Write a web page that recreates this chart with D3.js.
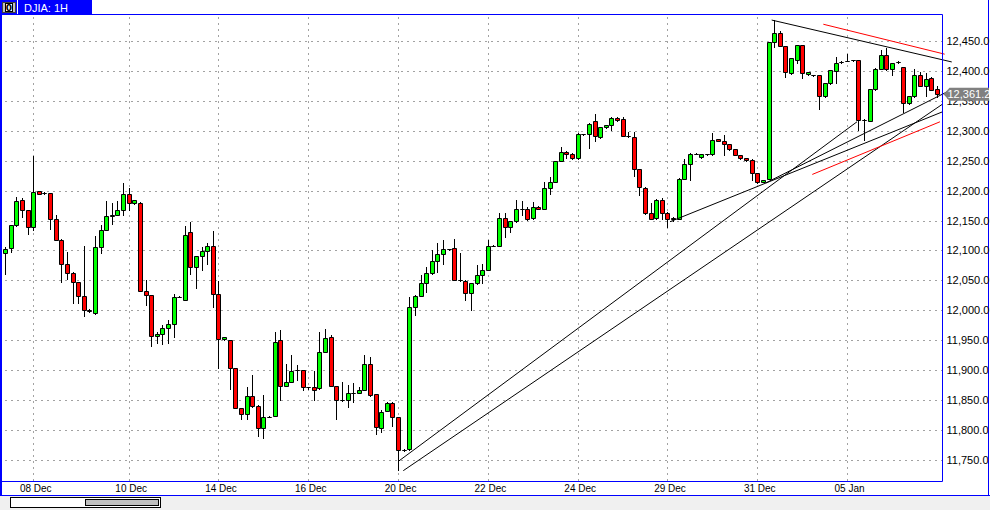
<!DOCTYPE html>
<html><head><meta charset="utf-8">
<script src="https://cdn.jsdelivr.net/npm/d3@7/dist/d3.min.js"></script>
<style>html,body{margin:0;padding:0;background:#fff;overflow:hidden}svg{display:block}</style>
</head><body>
<svg id="chart" width="990" height="510"></svg>
<script>
// ---- data (DJIA hourly bars) ----
const openP = [12095,12104,12142,12184,12167,12139,12199,12196,12196,12152,12118,12078,12063,12047,12024,12001,11995,12106,12135,12157,12160,12167,12194,12179,12180,12033,12025,11957,11960,11970,11977,12023,12018,12130,12072,12090,12099,12107,12028,11952,11950,11904,11836,11826,11856,11840,11803,11822,11824,11950,11874,11881,11900,11900,11871,11871,11870,11931,11955,11874,11850,11850,11861,11862,11867,11911,11860,11803,11832,11845,11822,11767,11769,12005,12024,12045,12062,12082,12094,12102,12104,12051,12049,12029,12045,12059,12068,12108,12107,12154,12139,12149,12170,12170,12154,12173,12170,12204,12215,12249,12265,12262,12254,12294,12294,12317,12289,12306,12310,12321,12319,12292,12289,12236,12205,12162,12154,12185,12163,12155,12152,12220,12244,12262,12256,12261,12261,12286,12283,12278,12269,12260,12254,12251,12229,12215,12220,12449,12464,12442,12396,12419,12443,12395,12393,12393,12358,12379,12400,12415,12417,12418,12418,12318,12317,12369,12404,12426,12403,12415,12407,12347,12358,12393,12375,12388,12369];
const highP = [12106,12143,12190,12187,12168,12258,12200,12197,12196,12159,12119,12098,12064,12048,12107,12002,12124,12142,12182,12180,12182,12212,12205,12185,12181,12051,12026,11963,11975,11984,12028,12024,12141,12147,12090,12106,12112,12132,12049,11956,11951,11904,11837,11871,11892,11841,11858,11823,11964,11967,11910,11925,11909,11900,11872,11899,11963,11969,11959,11874,11881,11875,11878,11872,11925,11922,11860,11833,11846,11847,11822,11768,12022,12026,12059,12073,12101,12112,12117,12103,12119,12095,12050,12046,12076,12078,12117,12109,12162,12162,12149,12184,12183,12173,12181,12174,12215,12223,12250,12273,12266,12263,12297,12295,12313,12328,12306,12310,12323,12323,12323,12298,12298,12236,12206,12179,12186,12188,12164,12156,12221,12252,12263,12263,12261,12262,12296,12287,12293,12278,12269,12260,12254,12252,12229,12218,12449,12485,12467,12442,12421,12444,12444,12399,12394,12393,12380,12402,12424,12416,12429,12419,12419,12319,12370,12405,12435,12438,12414,12416,12407,12358,12404,12399,12396,12390,12374];
const lowP = [12061,12098,12141,12156,12127,12134,12195,12195,12136,12118,12048,12052,12012,12013,11991,11997,11994,12095,12134,12144,12159,12159,12167,12178,12032,12009,11941,11945,11944,11946,11956,12022,12017,12061,12037,12067,12078,12006,11904,11951,11868,11836,11818,11818,11839,11790,11786,11821,11823,11850,11873,11881,11884,11866,11869,11850,11869,11931,11873,11818,11849,11838,11847,11862,11866,11857,11794,11796,11831,11807,11733,11765,11766,11992,12024,12031,12061,12064,12078,12101,12050,12049,12017,12000,12044,12045,12068,12107,12107,12123,12130,12148,12159,12151,12153,12169,12170,12195,12215,12249,12254,12253,12253,12293,12271,12283,12288,12305,12301,12317,12292,12290,12224,12193,12161,12152,12153,12152,12140,12150,12152,12220,12218,12261,12255,12260,12260,12283,12259,12268,12259,12253,12250,12218,12212,12214,12219,12440,12441,12390,12395,12413,12388,12394,12392,12337,12357,12378,12379,12414,12416,12417,12301,12284,12316,12368,12403,12402,12394,12414,12332,12344,12357,12374,12358,12368,12357];
const closeP = [12102,12142,12183,12167,12139,12197,12195,12196,12152,12118,12078,12063,12048,12024,12000,11998,12105,12135,12157,12160,12168,12194,12179,12184,12033,12025,11957,11960,11970,11977,12023,12023,12125,12073,12090,12099,12108,12028,11952,11955,11904,11836,11826,11856,11840,11803,11822,11822,11947,11874,11880,11898,11900,11871,11871,11867,11931,11953,11874,11850,11850,11862,11862,11866,11911,11858,11805,11830,11845,11822,11767,11767,12005,12024,12045,12062,12082,12094,12102,12102,12051,12051,12029,12045,12059,12068,12108,12108,12155,12139,12149,12169,12170,12152,12173,12170,12204,12215,12249,12265,12262,12254,12294,12294,12312,12291,12306,12310,12321,12318,12292,12292,12236,12206,12162,12152,12185,12163,12152,12152,12220,12244,12262,12262,12261,12261,12284,12283,12278,12269,12260,12254,12251,12229,12215,12218,12449,12463,12442,12398,12421,12443,12397,12399,12393,12358,12379,12401,12414,12415,12417,12418,12318,12318,12369,12404,12426,12403,12414,12415,12347,12358,12393,12375,12386,12368,12361.2];
const dateLabels = ["08 Dec","10 Dec","14 Dec","16 Dec","20 Dec","22 Dec","24 Dec","29 Dec","31 Dec","05 Jan"];
const dateLabelBars = [5,22,38,54,70,86,102,118,134,150];
const priceTicks = [11750,11800,11850,11900,11950,12000,12050,12100,12150,12200,12250,12300,12350,12400,12450];
const lastPrice = 12361.2;
const title = "DJIA: 1H";
// trend lines: start bar, start price, end bar, end price
const tlStartBar  = [70.11, 70.93, 118.45, 135.56, 136.57, 143.8, 145.77];
const tlStartPrice= [11748, 11732, 12148, 12213, 12485, 12227, 12478];
const tlEndBar    = [151.77, 167.09, 167.09, 168.88, 168.65, 166.55, 167.39];
const tlEndPrice  = [12315, 12345, 12332, 12370, 12415, 12315, 12428];
const tlColor     = ["#000","#000","#000","#000","#000","#ff0000","#ff0000"];

// ---- layout ----
const svg = d3.select("#chart");
const W = 990, H = 510;
const plot = {l:1.5, t:14.5, r:942.5, b:481.5};
const BLUE = "#0000ff";
const N = openP.length;
const x = d3.scaleLinear().domain([0, N-1]).range([5.2, 5.2 + (N-1)*5.6125]);
const y = d3.scaleLinear().domain([11750, 12450]).range([459.9, 41.0]);
const fmt = d3.format(",.1f");

svg.append("rect").attr("width",W).attr("height",H).attr("fill","#fff");

// grid
const grid = svg.append("g").attr("stroke","#444").attr("stroke-width",1).attr("stroke-dasharray","1,5");
priceTicks.forEach(p=>{
  const yy = Math.round(y(p))+0.5;
  grid.append("line").attr("x1",plot.l+4).attr("x2",plot.r).attr("y1",yy).attr("y2",yy);
});
dateLabelBars.forEach(b=>{
  const xx = Math.round(x(b))+0.5;
  grid.append("line").attr("x1",xx).attr("x2",xx).attr("y1",plot.t+3).attr("y2",plot.b);
});

// candles
const cg = svg.append("g");
for (let i=0;i<N;i++){
  const o=openP[i], c=closeP[i];
  const hi=Math.max(highP[i],o,c), lo=Math.min(lowP[i],o,c);
  const cx=Math.round(x(i));
  cg.append("line").attr("x1",cx+0.5).attr("x2",cx+0.5)
    .attr("y1",Math.round(y(hi))).attr("y2",Math.round(y(lo))+1)
    .attr("stroke","#000").attr("stroke-width",1);
  const yt=Math.round(y(Math.max(o,c)))+0.5, yb=Math.round(y(Math.min(o,c)))+0.5;
  const l=cx-1.5, r=cx+2.5;
  const col = c>o ? "#00ff00" : (c<o ? "#ff0000" : "#000");
  cg.append("path").attr("d",`M${l},${yt}H${r}V${yb}H${l}Z`)
    .attr("fill",col).attr("stroke","#000").attr("stroke-width",1);
}

// trend lines
const lg = svg.append("g").attr("fill","none").attr("stroke-width",1);
tlStartBar.forEach((sb,k)=>{
  lg.append("line").attr("x1",x(sb)).attr("y1",y(tlStartPrice[k]))
    .attr("x2",x(tlEndBar[k])).attr("y2",y(tlEndPrice[k])).attr("stroke",tlColor[k]);
});

// frame
svg.append("rect").attr("x",plot.r+1).attr("y",0).attr("width",W-plot.r-1).attr("height",plot.t).attr("fill","#fff");
svg.append("line").attr("x1",0).attr("x2",plot.r).attr("y1",plot.t).attr("y2",plot.t).attr("stroke",BLUE);
svg.append("line").attr("x1",plot.r).attr("x2",plot.r).attr("y1",plot.t).attr("y2",plot.b).attr("stroke",BLUE);
svg.append("line").attr("x1",0).attr("x2",plot.r).attr("y1",plot.b).attr("y2",plot.b).attr("stroke",BLUE);
svg.append("rect").attr("x",0).attr("y",0).attr("width",2).attr("height",495).attr("fill",BLUE);
svg.append("line").attr("x1",W-1.5).attr("x2",W-1.5).attr("y1",0).attr("y2",495).attr("stroke",BLUE);

// price axis
const pa = svg.append("g").attr("transform",`translate(${plot.r+4},0)`)
  .call(d3.axisRight(y).tickValues(priceTicks).tickFormat(fmt).tickSize(0).tickPadding(0));
pa.select(".domain").remove();
pa.selectAll("text").attr("font-family","'Liberation Sans',Arial,sans-serif").attr("font-size","11px").attr("fill","#000");

// last price marker
const ly = y(lastPrice);
svg.append("path")
  .attr("d",`M${plot.r+1},${ly} L${plot.r+7},${ly-6.5} H${W-1} V${ly+6.5} H${plot.r+7} Z`)
  .attr("fill","#808080");
svg.append("text").attr("x",plot.r+5).attr("y",ly).attr("dy","0.36em")
  .attr("font-family","'Liberation Sans',Arial,sans-serif").attr("font-size","11px").attr("fill","#fff")
  .text(fmt(lastPrice));

// date axis
const da = svg.append("g").attr("transform",`translate(2,${plot.b+1})`)
  .call(d3.axisBottom(x).tickValues(dateLabelBars).tickFormat((d,k)=>dateLabels[k]).tickSize(0).tickPadding(2));
da.select(".domain").remove();
da.selectAll("text").attr("font-family","'Liberation Sans Narrow','Liberation Sans',Arial,sans-serif").attr("font-size","10px").attr("fill","#000");

// bottom bar
svg.append("rect").attr("x",0).attr("y",495).attr("width",W).attr("height",15).attr("fill","#f0f0f0");
svg.append("line").attr("x1",0).attr("x2",W).attr("y1",495.5).attr("y2",495.5).attr("stroke",BLUE);
svg.append("rect").attr("x",10.5).attr("y",497.5).attr("width",150).attr("height",10).attr("fill","#fff").attr("stroke","#000");
svg.append("rect").attr("x",85.5).attr("y",499.5).attr("width",73).attr("height",6).attr("fill","#c0c0c0").attr("stroke","#000");

// title bar
svg.append("rect").attr("x",0).attr("y",0).attr("width",92).attr("height",14).attr("fill",BLUE);
svg.append("rect").attr("x",2.5).attr("y",2.5).attr("width",13).attr("height",10).attr("fill","#c0c0c0").attr("stroke","#404040");
svg.append("rect").attr("x",5.5).attr("y",3.5).attr("width",7).attr("height",8).attr("fill","#fff").attr("stroke","#000");
svg.append("text").attr("x",9).attr("y",11).attr("text-anchor","middle").attr("font-family","'DejaVu Sans',sans-serif")
  .attr("font-size","9px").attr("font-weight","bold").attr("fill","#000").text("0");
svg.append("line").attr("x1",17.5).attr("x2",17.5).attr("y1",0).attr("y2",14).attr("stroke","#fff");
svg.append("text").attr("x",24).attr("y",11.5).attr("font-family","'Liberation Sans',Arial,sans-serif")
  .attr("font-size","11px").attr("fill","#fff").text(title);
</script>
</body></html>
